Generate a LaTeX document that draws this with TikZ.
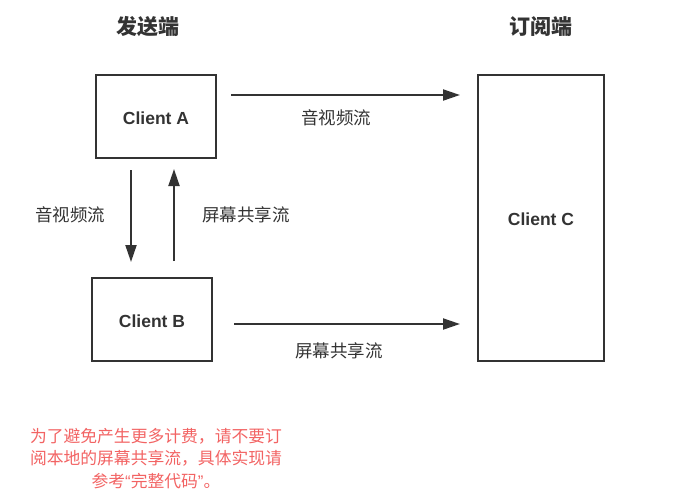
\documentclass[tikz,border=0pt]{standalone}
\usepackage{fontspec}
\setmainfont{Liberation Sans}
\newfontfamily\cjk{Noto Sans CJK SC}
\usetikzlibrary{arrows.meta}
\definecolor{ink}{HTML}{333333}
\definecolor{note}{HTML}{F26363}
\begin{document}
\begin{tikzpicture}[x=1pt,y=-1pt,
  box/.style={draw=ink,line width=2pt,inner sep=0pt},
  flow/.style={draw=ink,line width=2pt,-{Triangle[length=17pt,width=11pt]}},
  lbl/.style={text=ink,font=\cjk\fontsize{17.5}{20}\selectfont,inner sep=0pt},
  ttl/.style={text=ink,font=\cjk\bfseries\fontsize{21}{24}\selectfont,inner sep=0pt},
  cname/.style={text=ink,font=\bfseries\fontsize{17.5}{20}\selectfont,inner sep=0pt}]
\useasboundingbox (0,0) rectangle (699,499);
\node[box,minimum width=120pt,minimum height=83pt] (A) at (156,116.5) {};
\node[cname] at ([yshift=-1.5pt]A.center) {Client A};
\node[box,minimum width=120pt,minimum height=83pt] (B) at (152,319.5) {};
\node[cname] at ([yshift=-1.5pt]B.center) {Client B};
\node[box,minimum width=126pt,minimum height=286pt] (C) at (541,218) {};
\node[cname] at ([yshift=-1pt]C.center) {Client C};
\node[ttl] (t1) at (148,27) {发送端};
\node[ttl] (t2) at (541,27) {订阅端};
\coordinate (a1) at (231,95); \coordinate (a2) at (460,95);
\draw[flow] (a1) -- (a2);
\node[lbl] (l1) at (336,118) {音视频流};
\coordinate (b1) at (234,324); \coordinate (b2) at (460,324);
\draw[flow] (b1) -- (b2);
\node[lbl] (l2) at (339,351) {屏幕共享流};
\coordinate (d1) at (131,170); \coordinate (d2) at (131,262);
\draw[flow] (d1) -- (d2);
\coordinate (u1) at (174,261); \coordinate (u2) at (174,169);
\draw[flow] (u1) -- (u2);
\node[lbl] (l3) at (70,215) {音视频流};
\node[lbl] (l4) at (246,215) {屏幕共享流};
\node[text=note,font=\cjk\fontsize{16.8}{22.5}\selectfont,align=center,inner sep=0pt] (n) at (156,458.5)
  {为了避免产生更多计费，请不要订\\阅本地的屏幕共享流，具体实现请\\参考{\rmfamily “}完整代码{\rmfamily ”}。};
\end{tikzpicture}
\end{document}
